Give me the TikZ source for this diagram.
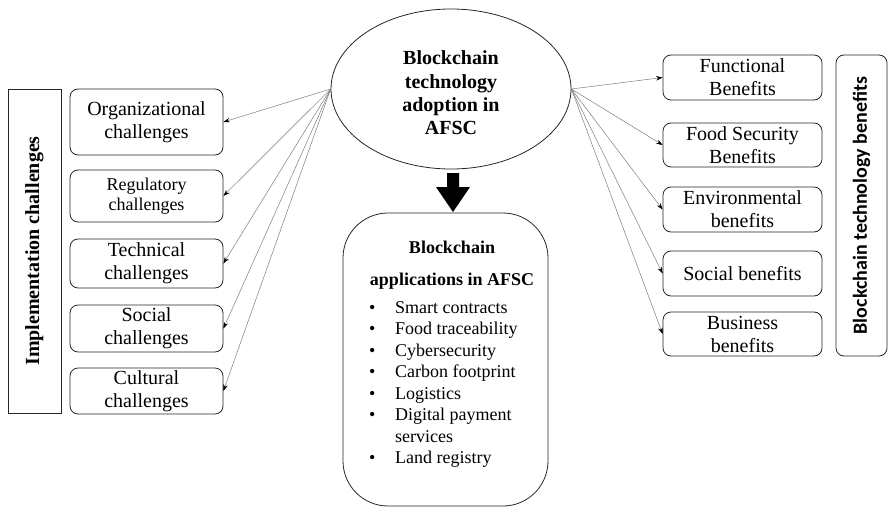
\documentclass[tikz,border=0pt]{standalone}
\usepackage{fontspec}
\setmainfont{Liberation Serif}
\newfontfamily\labelsans{Carlito}
\usetikzlibrary{shapes.geometric,arrows.meta}

\begin{document}
\begin{tikzpicture}[x=1pt,y=-1pt,
  box/.style={draw=black!85, line width=0.8pt, rounded corners=8pt, align=center,
    inner sep=0pt, font=\fontsize{20}{23}\selectfont},
  leftbox/.style={box, minimum width=153pt},
  rightbox/.style={box, minimum width=159pt},
  link/.style={draw=black!55, line width=0.45pt,
    -{Stealth[length=6.5pt,width=4.5pt,color=black]}},
]
\useasboundingbox (0,0) rectangle (888,508);

% central adoption ellipse and its title
\node[ellipse, draw=black!85, line width=0.8pt, minimum width=240pt, minimum height=160pt,
  inner sep=0pt] (ell) at (451,89) {};
\node[align=center, inner sep=0pt, font=\bfseries\fontsize{20}{23.4}\selectfont]
  (elltitle) at (451,93) {Blockchain\\technology\\adoption in\\AFSC};

% implementation challenges (left column)
\node[draw=black!85, line width=0.8pt, rotate=90, minimum width=324pt, minimum height=53pt,
  inner sep=0pt, font=\bfseries\fontsize{20}{24}\selectfont]
  (impl) at (34.5,251) {Implementation challenges};

\node[leftbox, minimum height=66pt] (org)  at (146.5,122)   {Organizational\\challenges};
\node[leftbox, minimum height=52pt, font=\fontsize{18}{20}\selectfont]
                                    (reg)  at (146.5,196)   {Regulatory\\challenges};
\node[leftbox, minimum height=49pt] (tech) at (146.5,263.5) {Technical\\challenges};
\node[leftbox, minimum height=47pt] (soc)  at (146.5,328.5) {Social\\challenges};
\node[leftbox, minimum height=46pt] (cult) at (146.5,391)   {Cultural\\challenges};

% benefits (right column)
\node[rightbox, minimum height=45pt] (func) at (742.5,77.5)  {Functional\\Benefits};
\node[rightbox, minimum height=44pt] (food) at (742.5,145)   {Food Security\\Benefits};
\node[rightbox, minimum height=45pt] (env)  at (742.5,209.5) {Environmental\\benefits};
\node[rightbox, minimum height=45pt] (socb) at (742.5,273.5) {Social benefits};
\node[rightbox, minimum height=44pt] (bus)  at (742.5,334)   {Business\\benefits};

\node[draw=black!85, line width=0.8pt, rounded corners=8pt, rotate=90,
  minimum width=301pt, minimum height=51pt, inner sep=0pt,
  font=\labelsans\bfseries\fontsize{20}{24}\selectfont]
  (ben) at (861.5,205.5) {Blockchain technology benefits};

% applications box
\node[draw=black!85, line width=0.8pt, rounded corners=45pt,
  minimum width=205pt, minimum height=293pt, inner sep=0pt]
  (app) at (445.5,359.5) {};
\node[anchor=base, inner sep=0pt, font=\bfseries\fontsize{18}{21.6}\selectfont]
  (apptitle) at (452,253)
  {\begin{tabular}[t]{@{}c@{}}Blockchain\\[10.4pt]applications in AFSC\end{tabular}};
\node[anchor=base west, inner sep=0pt, font=\fontsize{18}{21.5}\selectfont]
  (applist) at (369,313)
  {\begin{tabular}[t]{@{}p{26pt}@{}l@{}}
   \textbullet & Smart contracts\\
   \textbullet & Food traceability\\
   \textbullet & Cybersecurity\\
   \textbullet & Carbon footprint\\
   \textbullet & Logistics\\
   \textbullet & Digital payment\\
               & services\\
   \textbullet & Land registry
   \end{tabular}};

% block arrow from the ellipse down to the applications box
\fill[black] (447,173) -- (459,173) -- (459,187) -- (470,187) -- (453,212)
  -- (436,187) -- (447,187) -- cycle;

% connectors
\foreach \b in {org,reg,tech,soc,cult}
  \draw[link] (ell.west) -- (\b.east);
\foreach \b in {func,food,env,socb,bus}
  \draw[link] (ell.east) -- (\b.west);
\end{tikzpicture}
\end{document}
